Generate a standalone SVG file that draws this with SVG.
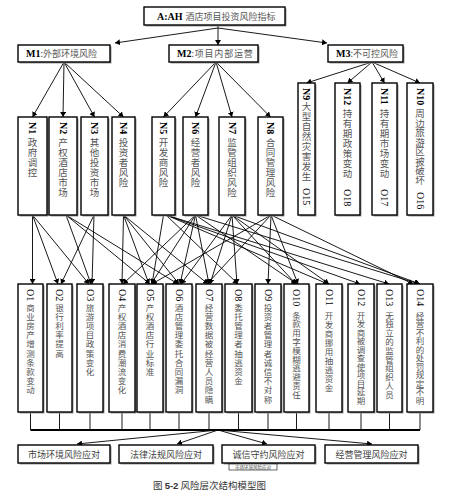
<svg xmlns="http://www.w3.org/2000/svg" width="456" height="501" viewBox="0 0 456 501">
<style>
.bg{fill:#fff}
.box{fill:#fff;stroke:#000;stroke-width:1.4}
.sh{fill:#9a9a9a}
.lbl{font-family:"Liberation Serif","Noto Sans CJK SC",serif;font-weight:bold;font-size:10px;fill:#000}
.rl{font-family:"Liberation Serif",serif;font-size:10px;fill:#000;dominant-baseline:central}
.rb{font-weight:bold}
.cn{font-family:"Noto Sans CJK SC",sans-serif;font-size:9px;fill:#555}
.vc{font-family:"Noto Sans CJK SC",sans-serif;font-size:9.5px;fill:#555;text-anchor:middle}
.oc{font-family:"Noto Sans CJK SC",sans-serif;font-size:8.5px;fill:#555;text-anchor:middle}
.e{stroke:#000;stroke-width:0.9;fill:none;marker-end:url(#ah)}
.ln{stroke:#000;stroke-width:0.9;fill:none}
.bus{stroke:#000;stroke-width:2;fill:none}
.bt{font-family:"Noto Sans CJK SC",sans-serif;font-size:9px;fill:#444;text-anchor:middle}
</style>
<defs>
<marker id="ah" markerWidth="6" markerHeight="6" refX="5" refY="3" orient="auto" markerUnits="userSpaceOnUse">
<path d="M0,0 L5,3 L0,6 Z" fill="#000"/>
</marker>
</defs>
<rect class="bg" x="0" y="0" width="456" height="501"/>

<g id="connectors">
<path class="ln" d="M218,25 V28"/>
<path class="e" d="M218,28 V45"/>
<path class="e" d="M218,28 L115,43"/>
<path class="e" d="M218,28 L327,43"/>
<path class="e" d="M64,62 L32.5,117"/>
<path class="e" d="M64,62 L63,117"/>
<path class="e" d="M64,62 L94.5,117"/>
<path class="e" d="M64,62 L123.5,117"/>
<path class="e" d="M216,62 L163.5,117"/>
<path class="e" d="M216,62 L195.5,117"/>
<path class="e" d="M216,62 L232,117"/>
<path class="e" d="M216,62 L270.5,117"/>
<path class="e" d="M372,62 L306.5,83"/>
<path class="e" d="M372,62 L347.5,83"/>
<path class="e" d="M372,62 L384.5,83"/>
<path class="e" d="M372,62 L420,83"/>
<path class="e" d="M32.5,215 L32.5,284"/>
<path class="e" d="M32.5,215 L58,284"/>
<path class="e" d="M32.5,215 L89,284"/>
<path class="e" d="M66,215 L91,284"/>
<path class="e" d="M66,215 L150,284"/>
<path class="e" d="M66,215 L178,284"/>
<path class="e" d="M94,215 L61,284"/>
<path class="e" d="M94,215 L92,284"/>
<path class="e" d="M123.5,215 L122,284"/>
<path class="e" d="M123.5,215 L149,284"/>
<path class="e" d="M123.5,215 L179,284"/>
<path class="e" d="M123.5,215 L208,284"/>
<path class="e" d="M163.5,215 L152,284"/>
<path class="e" d="M166,215 L238,284"/>
<path class="e" d="M166,215 L328,284"/>
<path class="e" d="M166,215 L360,284"/>
<path class="e" d="M166,215 L389,284"/>
<path class="e" d="M195.5,215 L123,284"/>
<path class="e" d="M195.5,215 L151,284"/>
<path class="e" d="M195.5,215 L180,284"/>
<path class="e" d="M195.5,215 L209,284"/>
<path class="e" d="M195.5,215 L297,284"/>
<path class="e" d="M195.5,215 L419,284"/>
<path class="e" d="M232,215 L181,284"/>
<path class="e" d="M232,215 L210,284"/>
<path class="e" d="M232,215 L237,284"/>
<path class="e" d="M232,215 L296,284"/>
<path class="e" d="M232,215 L329,284"/>
<path class="e" d="M232,215 L420,284"/>
<path class="e" d="M271,215 L152,284"/>
<path class="e" d="M271,215 L207,284"/>
<path class="e" d="M271,215 L268,284"/>
<path class="e" d="M271,215 L298,284"/>
<path class="e" d="M271,215 L413,284"/>
<path class="ln" d="M30.5,412V430 M59.5,412V430 M90,412V430 M122,412V430 M150,412V430 M179,412V430 M209,412V430 M238.5,412V430 M268,412V430 M296.5,412V430 M329,412V430 M361,412V430 M389.5,412V430 M420,412V430"/>
<path class="bus" d="M30.5,430 H420"/>
<path class="e" d="M218,430 L77,444"/>
<path class="e" d="M218,430 L177,444"/>
<path class="e" d="M218,430 L267,444"/>
<path class="e" d="M218,430 L372,444"/>
</g>

<g id="A"><rect class="sh" x="145.5" y="8.5" width="141" height="18"/><rect class="box" x="144" y="7" width="141" height="18"/>
<text x="157" y="19.5"><tspan class="lbl">A:AH</tspan><tspan class="cn" dx="3">酒店项目投资风险指标</tspan></text></g>

<g id="M1"><rect class="sh" x="19.5" y="46.5" width="92" height="17"/><rect class="box" x="18" y="45" width="92" height="17"/>
<text x="26" y="57"><tspan class="lbl">M1</tspan><tspan class="cn">:外部环境风险</tspan></text></g>
<g id="M2"><rect class="sh" x="170.5" y="46.5" width="89" height="17"/><rect class="box" x="169" y="45" width="89" height="17"/>
<text x="177" y="57"><tspan class="lbl">M2</tspan><tspan class="cn" letter-spacing="0.8">:项目内部运营</tspan></text></g>
<g id="M3"><rect class="sh" x="329.5" y="46.5" width="75" height="17"/><rect class="box" x="328" y="45" width="75" height="17"/>
<text x="336" y="57"><tspan class="lbl">M3</tspan><tspan class="cn">:不可控风险</tspan></text></g>

<g id="N1"><rect class="sh" x="19.5" y="118.5" width="29" height="98"/><rect class="box" x="18" y="117" width="29" height="98"/>
<text class="rl rb" transform="translate(32.5,122) rotate(90)">N1</text>
<text class="vc"><tspan x="32.5" y="146">政</tspan><tspan x="32.5" dy="10">府</tspan><tspan x="32.5" dy="10">调</tspan><tspan x="32.5" dy="10">控</tspan></text></g>
<g id="N2"><rect class="sh" x="50.5" y="118.5" width="28" height="98"/><rect class="box" x="49" y="117" width="28" height="98"/>
<text class="rl rb" transform="translate(63,122) rotate(90)">N2</text>
<text class="vc"><tspan x="63" y="146">产</tspan><tspan x="63" dy="10">权</tspan><tspan x="63" dy="10">酒</tspan><tspan x="63" dy="10">店</tspan><tspan x="63" dy="10">市</tspan><tspan x="63" dy="10">场</tspan></text></g>
<g id="N3"><rect class="sh" x="82.5" y="118.5" width="27" height="98"/><rect class="box" x="81" y="117" width="27" height="98"/>
<text class="rl rb" transform="translate(94.5,122) rotate(90)">N3</text>
<text class="vc"><tspan x="94.5" y="146">其</tspan><tspan x="94.5" dy="10">他</tspan><tspan x="94.5" dy="10">投</tspan><tspan x="94.5" dy="10">资</tspan><tspan x="94.5" dy="10">市</tspan><tspan x="94.5" dy="10">场</tspan></text></g>
<g id="N4"><rect class="sh" x="113.5" y="118.5" width="23" height="98"/><rect class="box" x="112" y="117" width="23" height="98"/>
<text class="rl rb" transform="translate(123.5,122) rotate(90)">N4</text>
<text class="vc"><tspan x="123.5" y="146">投</tspan><tspan x="123.5" dy="10">资</tspan><tspan x="123.5" dy="10">者</tspan><tspan x="123.5" dy="10">风</tspan><tspan x="123.5" dy="10">险</tspan></text></g>
<g id="N5"><rect class="sh" x="153.5" y="118.5" width="23" height="98"/><rect class="box" x="152" y="117" width="23" height="98"/>
<text class="rl rb" transform="translate(163.5,122) rotate(90)">N5</text>
<text class="vc"><tspan x="163.5" y="146">开</tspan><tspan x="163.5" dy="10">发</tspan><tspan x="163.5" dy="10">商</tspan><tspan x="163.5" dy="10">风</tspan><tspan x="163.5" dy="10">险</tspan></text></g>
<g id="N6"><rect class="sh" x="184.5" y="118.5" width="25" height="98"/><rect class="box" x="183" y="117" width="25" height="98"/>
<text class="rl rb" transform="translate(195.5,122) rotate(90)">N6</text>
<text class="vc"><tspan x="195.5" y="146">经</tspan><tspan x="195.5" dy="10">营</tspan><tspan x="195.5" dy="10">者</tspan><tspan x="195.5" dy="10">风</tspan><tspan x="195.5" dy="10">险</tspan></text></g>
<g id="N7"><rect class="sh" x="220.5" y="118.5" width="26" height="98"/><rect class="box" x="219" y="117" width="26" height="98"/>
<text class="rl rb" transform="translate(232,122) rotate(90)">N7</text>
<text class="vc"><tspan x="232" y="146">监</tspan><tspan x="232" dy="10">管</tspan><tspan x="232" dy="10">组</tspan><tspan x="232" dy="10">织</tspan><tspan x="232" dy="10">风</tspan><tspan x="232" dy="10">险</tspan></text></g>
<g id="N8"><rect class="sh" x="259.5" y="118.5" width="25" height="98"/><rect class="box" x="258" y="117" width="25" height="98"/>
<text class="rl rb" transform="translate(270.5,122) rotate(90)">N8</text>
<text class="vc"><tspan x="270.5" y="146">合</tspan><tspan x="270.5" dy="10">同</tspan><tspan x="270.5" dy="10">管</tspan><tspan x="270.5" dy="10">理</tspan><tspan x="270.5" dy="10">风</tspan><tspan x="270.5" dy="10">险</tspan></text></g>

<g id="N9"><rect class="sh" x="299.5" y="84.5" width="17" height="132"/><rect class="box" x="298" y="83" width="17" height="132"/>
<text class="rl rb" transform="translate(306.5,88) rotate(90)">N9</text>
<text class="vc"><tspan x="306.5" y="110">大</tspan><tspan x="306.5" dy="10">型</tspan><tspan x="306.5" dy="10">自</tspan><tspan x="306.5" dy="10">然</tspan><tspan x="306.5" dy="10">灾</tspan><tspan x="306.5" dy="10">害</tspan><tspan x="306.5" dy="10">发</tspan><tspan x="306.5" dy="10">生</tspan></text>
<text class="rl" transform="translate(306.5,188) rotate(90)">O15</text></g>
<g id="N12"><rect class="sh" x="336.5" y="84.5" width="25" height="132"/><rect class="box" x="335" y="83" width="25" height="132"/>
<text class="rl rb" transform="translate(347.5,88) rotate(90)">N12</text>
<text class="vc"><tspan x="347.5" y="117">持</tspan><tspan x="347.5" dy="10">有</tspan><tspan x="347.5" dy="10">期</tspan><tspan x="347.5" dy="10">政</tspan><tspan x="347.5" dy="10">策</tspan><tspan x="347.5" dy="10">变</tspan><tspan x="347.5" dy="10">动</tspan></text>
<text class="rl" transform="translate(347.5,189) rotate(90)">O18</text></g>
<g id="N11"><rect class="sh" x="373.5" y="84.5" width="25" height="132"/><rect class="box" x="372" y="83" width="25" height="132"/>
<text class="rl rb" transform="translate(384.5,88) rotate(90)">N11</text>
<text class="vc"><tspan x="384.5" y="117">持</tspan><tspan x="384.5" dy="10">有</tspan><tspan x="384.5" dy="10">期</tspan><tspan x="384.5" dy="10">市</tspan><tspan x="384.5" dy="10">场</tspan><tspan x="384.5" dy="10">变</tspan><tspan x="384.5" dy="10">动</tspan></text>
<text class="rl" transform="translate(384.5,189) rotate(90)">O17</text></g>
<g id="N10"><rect class="sh" x="408.5" y="84.5" width="26" height="132"/><rect class="box" x="407" y="83" width="26" height="132"/>
<text class="rl rb" transform="translate(420,88) rotate(90)">N10</text>
<text class="vc"><tspan x="420" y="117">周</tspan><tspan x="420" dy="9.5">边</tspan><tspan x="420" dy="9.5">旅</tspan><tspan x="420" dy="9.5">游</tspan><tspan x="420" dy="9.5">区</tspan><tspan x="420" dy="9.5">被</tspan><tspan x="420" dy="9.5">破</tspan><tspan x="420" dy="9.5">坏</tspan></text>
<text class="rl" transform="translate(420,192) rotate(90)">O16</text></g>

<g id="O1"><rect class="sh" x="19.5" y="285.5" width="25" height="128"/><rect class="box" x="18" y="284" width="25" height="128"/>
<text class="rl" transform="translate(30.5,289) rotate(90)">O1</text>
<text class="oc"><tspan x="30.5" y="310.5">商</tspan><tspan x="30.5" dy="9.2">业</tspan><tspan x="30.5" dy="9.2">房</tspan><tspan x="30.5" dy="9.2">产</tspan><tspan x="30.5" dy="9.2">增</tspan><tspan x="30.5" dy="9.2">测</tspan><tspan x="30.5" dy="9.2">条</tspan><tspan x="30.5" dy="9.2">款</tspan><tspan x="30.5" dy="9.2">变</tspan><tspan x="30.5" dy="9.2">动</tspan></text></g>
<g id="O2"><rect class="sh" x="48.5" y="285.5" width="25" height="128"/><rect class="box" x="47" y="284" width="25" height="128"/>
<text class="rl" transform="translate(59.5,289) rotate(90)">O2</text>
<text class="oc"><tspan x="59.5" y="310.5">银</tspan><tspan x="59.5" dy="9.2">行</tspan><tspan x="59.5" dy="9.2">利</tspan><tspan x="59.5" dy="9.2">率</tspan><tspan x="59.5" dy="9.2">提</tspan><tspan x="59.5" dy="9.2">高</tspan></text></g>
<g id="O3"><rect class="sh" x="78.5" y="285.5" width="26" height="128"/><rect class="box" x="77" y="284" width="26" height="128"/>
<text class="rl" transform="translate(90,289) rotate(90)">O3</text>
<text class="oc"><tspan x="90" y="310.5">旅</tspan><tspan x="90" dy="9.2">游</tspan><tspan x="90" dy="9.2">项</tspan><tspan x="90" dy="9.2">目</tspan><tspan x="90" dy="9.2">政</tspan><tspan x="90" dy="9.2">策</tspan><tspan x="90" dy="9.2">变</tspan><tspan x="90" dy="9.2">化</tspan></text></g>
<g id="O4"><rect class="sh" x="110.5" y="285.5" width="26" height="128"/><rect class="box" x="109" y="284" width="26" height="128"/>
<text class="rl" transform="translate(122,289) rotate(90)">O4</text>
<text class="oc"><tspan x="122" y="310.5">产</tspan><tspan x="122" dy="9.2">权</tspan><tspan x="122" dy="9.2">酒</tspan><tspan x="122" dy="9.2">店</tspan><tspan x="122" dy="9.2">消</tspan><tspan x="122" dy="9.2">费</tspan><tspan x="122" dy="9.2">潮</tspan><tspan x="122" dy="9.2">流</tspan><tspan x="122" dy="9.2">变</tspan><tspan x="122" dy="9.2">化</tspan></text></g>
<g id="O5"><rect class="sh" x="138.5" y="285.5" width="26" height="128"/><rect class="box" x="137" y="284" width="26" height="128"/>
<text class="rl" transform="translate(150,289) rotate(90)">O5</text>
<text class="oc"><tspan x="150" y="310.5">产</tspan><tspan x="150" dy="9.2">权</tspan><tspan x="150" dy="9.2">酒</tspan><tspan x="150" dy="9.2">店</tspan><tspan x="150" dy="9.2">行</tspan><tspan x="150" dy="9.2">业</tspan><tspan x="150" dy="9.2">标</tspan><tspan x="150" dy="9.2">准</tspan></text></g>
<g id="O6"><rect class="sh" x="167.5" y="285.5" width="26" height="128"/><rect class="box" x="166" y="284" width="26" height="128"/>
<text class="rl" transform="translate(179,289) rotate(90)">O6</text>
<text class="oc"><tspan x="179" y="310.5">酒</tspan><tspan x="179" dy="9.2">店</tspan><tspan x="179" dy="9.2">管</tspan><tspan x="179" dy="9.2">理</tspan><tspan x="179" dy="9.2">委</tspan><tspan x="179" dy="9.2">托</tspan><tspan x="179" dy="9.2">合</tspan><tspan x="179" dy="9.2">同</tspan><tspan x="179" dy="9.2">漏</tspan><tspan x="179" dy="9.2">洞</tspan></text></g>
<g id="O7"><rect class="sh" x="197.5" y="285.5" width="26" height="128"/><rect class="box" x="196" y="284" width="26" height="128"/>
<text class="rl" transform="translate(209,289) rotate(90)">O7</text>
<text class="oc"><tspan x="209" y="310.5">经</tspan><tspan x="209" dy="9.2">营</tspan><tspan x="209" dy="9.2">数</tspan><tspan x="209" dy="9.2">据</tspan><tspan x="209" dy="9.2">被</tspan><tspan x="209" dy="9.2">经</tspan><tspan x="209" dy="9.2">营</tspan><tspan x="209" dy="9.2">人</tspan><tspan x="209" dy="9.2">员</tspan><tspan x="209" dy="9.2">隐</tspan><tspan x="209" dy="9.2">瞒</tspan></text></g>
<g id="O8"><rect class="sh" x="226.5" y="285.5" width="27" height="128"/><rect class="box" x="225" y="284" width="27" height="128"/>
<text class="rl" transform="translate(238.5,289) rotate(90)">O8</text>
<text class="oc"><tspan x="238.5" y="310.5">委</tspan><tspan x="238.5" dy="9.2">托</tspan><tspan x="238.5" dy="9.2">管</tspan><tspan x="238.5" dy="9.2">理</tspan><tspan x="238.5" dy="9.2">者</tspan><tspan x="238.5" dy="9.2">抽</tspan><tspan x="238.5" dy="9.2">逃</tspan><tspan x="238.5" dy="9.2">资</tspan><tspan x="238.5" dy="9.2">金</tspan></text></g>
<g id="O9"><rect class="sh" x="256.5" y="285.5" width="26" height="128"/><rect class="box" x="255" y="284" width="26" height="128"/>
<text class="rl" transform="translate(268,289) rotate(90)">O9</text>
<text class="oc"><tspan x="268" y="310.5">投</tspan><tspan x="268" dy="9.2">资</tspan><tspan x="268" dy="9.2">者</tspan><tspan x="268" dy="9.2">管</tspan><tspan x="268" dy="9.2">理</tspan><tspan x="268" dy="9.2">者</tspan><tspan x="268" dy="9.2">诚</tspan><tspan x="268" dy="9.2">信</tspan><tspan x="268" dy="9.2">不</tspan><tspan x="268" dy="9.2">对</tspan><tspan x="268" dy="9.2">称</tspan></text></g>
<g id="O10"><rect class="sh" x="285.5" y="285.5" width="25" height="128"/><rect class="box" x="284" y="284" width="25" height="128"/>
<text class="rl" transform="translate(296.5,289) rotate(90)">O10</text>
<text class="oc"><tspan x="296.5" y="318.5">条</tspan><tspan x="296.5" dy="8.8">款</tspan><tspan x="296.5" dy="8.8">用</tspan><tspan x="296.5" dy="8.8">字</tspan><tspan x="296.5" dy="8.8">模</tspan><tspan x="296.5" dy="8.8">糊</tspan><tspan x="296.5" dy="8.8">逃</tspan><tspan x="296.5" dy="8.8">避</tspan><tspan x="296.5" dy="8.8">责</tspan><tspan x="296.5" dy="8.8">任</tspan></text></g>
<g id="O11"><rect class="sh" x="317.5" y="285.5" width="26" height="128"/><rect class="box" x="316" y="284" width="26" height="128"/>
<text class="rl" transform="translate(329,289) rotate(90)">O11</text>
<text class="oc"><tspan x="329" y="318.5">开</tspan><tspan x="329" dy="9">发</tspan><tspan x="329" dy="9">商</tspan><tspan x="329" dy="9">挪</tspan><tspan x="329" dy="9">用</tspan><tspan x="329" dy="9">抽</tspan><tspan x="329" dy="9">逃</tspan><tspan x="329" dy="9">资</tspan><tspan x="329" dy="9">金</tspan></text></g>
<g id="O12"><rect class="sh" x="349.5" y="285.5" width="26" height="128"/><rect class="box" x="348" y="284" width="26" height="128"/>
<text class="rl" transform="translate(361,289) rotate(90)">O12</text>
<text class="oc"><tspan x="361" y="318.5">开</tspan><tspan x="361" dy="8.5">发</tspan><tspan x="361" dy="8.5">商</tspan><tspan x="361" dy="8.5">被</tspan><tspan x="361" dy="8.5">调</tspan><tspan x="361" dy="8.5">查</tspan><tspan x="361" dy="8.5">使</tspan><tspan x="361" dy="8.5">项</tspan><tspan x="361" dy="8.5">目</tspan><tspan x="361" dy="8.5">延</tspan><tspan x="361" dy="8.5">期</tspan></text></g>
<g id="O13"><rect class="sh" x="378.5" y="285.5" width="25" height="128"/><rect class="box" x="377" y="284" width="25" height="128"/>
<text class="rl" transform="translate(389.5,289) rotate(90)">O13</text>
<text class="oc"><tspan x="389.5" y="318.5">无</tspan><tspan x="389.5" dy="8.8">独</tspan><tspan x="389.5" dy="8.8">立</tspan><tspan x="389.5" dy="8.8">的</tspan><tspan x="389.5" dy="8.8">监</tspan><tspan x="389.5" dy="8.8">管</tspan><tspan x="389.5" dy="8.8">组</tspan><tspan x="389.5" dy="8.8">织</tspan><tspan x="389.5" dy="8.8">人</tspan><tspan x="389.5" dy="8.8">员</tspan></text></g>
<g id="O14"><rect class="sh" x="408.5" y="285.5" width="26" height="128"/><rect class="box" x="407" y="284" width="26" height="128"/>
<text class="rl" transform="translate(420,289) rotate(90)">O14</text>
<text class="oc"><tspan x="420" y="318.5">经</tspan><tspan x="420" dy="8.5">营</tspan><tspan x="420" dy="8.5">不</tspan><tspan x="420" dy="8.5">利</tspan><tspan x="420" dy="8.5">的</tspan><tspan x="420" dy="8.5">处</tspan><tspan x="420" dy="8.5">罚</tspan><tspan x="420" dy="8.5">规</tspan><tspan x="420" dy="8.5">定</tspan><tspan x="420" dy="8.5">不</tspan><tspan x="420" dy="8.5">明</tspan></text></g>

<g id="B1"><rect class="sh" x="19.5" y="446.5" width="92" height="18"/><rect class="box" x="18" y="445" width="92" height="18"/>
<text class="bt" x="64" y="457.5">市场环境风险应对</text></g>
<g id="B2"><rect class="sh" x="120.5" y="446.5" width="94" height="18"/><rect class="box" x="119" y="445" width="94" height="18"/>
<text class="bt" x="166" y="457.5">法律法规风险应对</text></g>
<g id="B3"><rect class="sh" x="223.5" y="446.5" width="93" height="18"/><rect class="box" x="222" y="445" width="93" height="18"/>
<text class="bt" x="268.5" y="457.5">诚信守约风险应对</text></g>
<g id="B4"><rect class="sh" x="326.5" y="446.5" width="93" height="18"/><rect class="box" x="325" y="445" width="93" height="18"/>
<text class="bt" x="371.5" y="457.5">经营管理风险应对</text></g>
<g id="B5"><rect x="229" y="464" width="48" height="6" fill="#fff" stroke="#000" stroke-width="0.6"/>
<text class="bt" x="253" y="469" style="font-size:4.5px">市场环境风险应对</text></g>

<g id="caption"><text x="153" y="489" style="font-family:'Noto Sans CJK SC',sans-serif;font-size:9.5px;fill:#333">图 <tspan font-weight="bold" font-family="Liberation Sans">5-2</tspan>  风险层次结构模型图</text></g>
</svg>
